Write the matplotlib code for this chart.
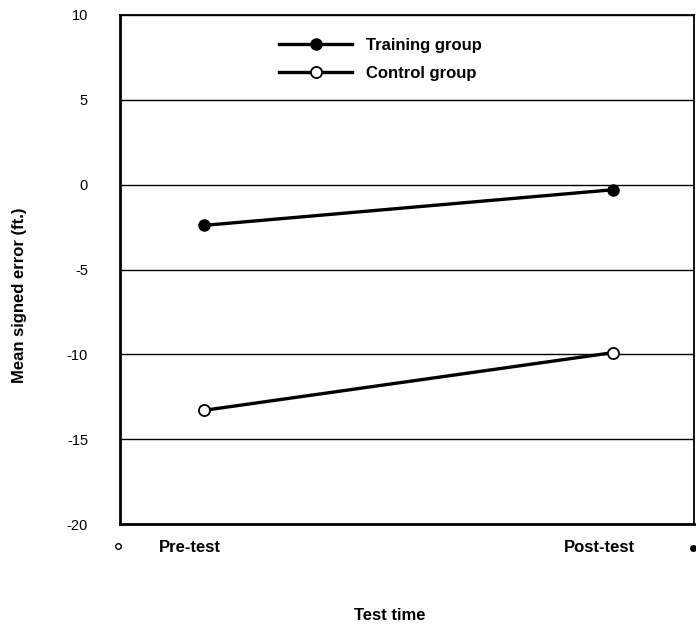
import matplotlib.pyplot as plt

plt.rcParams["font.family"] = ["Liberation Sans", "DejaVu Sans"]

# données
test_times = ["Pre-test", "Post-test"]
training_group = [-2.4, -0.3]
control_group = [-13.3, -9.9]
y_ticks = [10, 5, 0, -5, -10, -15, -20]

x = [0, 1]

fig = plt.figure(figsize=(6.96, 6.24), dpi=100)
ax = fig.add_axes([120 / 696, 1 - 524 / 624, 574 / 696, 509 / 624])

ax.plot(x, training_group, color="black", linewidth=2.4, marker="o",
        markersize=8, markerfacecolor="black", markeredgecolor="black", label="Training group")
ax.plot(x, control_group, color="black", linewidth=2.4, marker="o",
        markersize=8, markerfacecolor="white", markeredgecolor="black",
        markeredgewidth=1.3, label="Control group")

ax.set_xlim(-0.2054, 1.198)
ax.set_ylim(-20, 10)
ax.set_yticks(y_ticks)
ax.set_yticklabels([str(v) for v in y_ticks], fontsize=10.5)
ax.tick_params(axis="y", length=0, pad=23)
ax.set_xticks([])
ax.grid(True, axis="y", color="black", linewidth=1.0)
for s in ax.spines.values():
    s.set_linewidth(1.3)
ax.spines["left"].set_linewidth(2.0)
ax.spines["bottom"].set_linewidth(2.0)

# libellés des catégories sous l'axe
for xi, lab in zip(x, test_times):
    ax.text(xi - 0.034, -21.4, lab, ha="center", va="center", fontsize=12,
            fontweight="bold", clip_on=False)

# petits marqueurs résiduels aux coins
ax.plot([-0.21], [-21.3], marker="o", markersize=4, markerfacecolor="white",
        markeredgecolor="black", clip_on=False, linestyle="none")
ax.plot([1.195], [-21.4], marker="o", markersize=4, markerfacecolor="black",
        markeredgecolor="black", clip_on=False, linestyle="none")

fig.text(20 / 696, 1 - 295 / 624, "Mean signed error (ft.)", rotation=90,
         ha="center", va="center", fontsize=12, fontweight="bold")
fig.text(390 / 696, 1 - 616 / 624, "Test time", ha="center", va="center",
         fontsize=12, fontweight="bold")

leg = ax.legend(loc="upper left", bbox_to_anchor=(144 / 574, 1 - 8 / 509),
                frameon=False, handlelength=4.4, handletextpad=0.8,
                labelspacing=0.75, prop={"weight": "bold", "size": 12})

fig.savefig("out.png", dpi=100)
